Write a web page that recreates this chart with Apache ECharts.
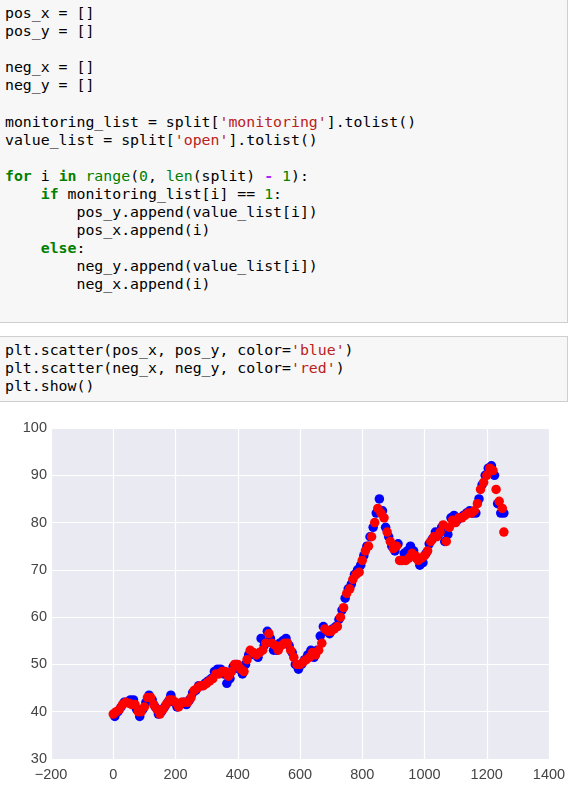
<!DOCTYPE html>
<html><head><meta charset="utf-8">
<script src="https://cdn.jsdelivr.net/npm/echarts@6/dist/echarts.min.js"></script>
<style>
html,body{margin:0;padding:0;width:569px;height:795px;overflow:hidden;background:#fff;}
.cell{position:absolute;left:0;width:567px;background:#f7f7f7;border:1px solid #cfcfcf;border-left:none;}
pre{margin:0;padding:4px 0 0 5px;font-family:"DejaVu Sans Mono","Liberation Mono",monospace;font-size:14.85px;line-height:18.1px;color:#000;}
.k{color:#008000;font-weight:bold}.b{color:#008000}.s{color:#BA2121}.n{color:#008000}.o{color:#AA22FF;font-weight:bold}
#chart{position:absolute;left:0;top:400px;width:569px;height:395px;}
</style></head><body>
<div class="cell" style="top:-1px;height:322px"><pre>pos_x = []
pos_y = []

neg_x = []
neg_y = []

monitoring_list = split[<span class="s">'monitoring'</span>].tolist()
value_list = split[<span class="s">'open'</span>].tolist()

<span class="k">for</span> i <span class="k">in</span> <span class="b">range</span>(<span class="n">0</span>, <span class="b">len</span>(split) <span class="o">-</span> <span class="n">1</span>):
    <span class="k">if</span> monitoring_list[i] == <span class="n">1</span>:
        pos_y.append(value_list[i])
        pos_x.append(i)
    <span class="k">else</span>:
        neg_y.append(value_list[i])
        neg_x.append(i)</pre></div>
<div class="cell" style="top:336px;height:64px"><pre>plt.scatter(pos_x, pos_y, color=<span class="s">'blue'</span>)
plt.scatter(neg_x, neg_y, color=<span class="s">'red'</span>)
plt.show()</pre></div>
<div id="chart"></div>
<script>
// blue (monitoring == 1), sampled every 10 samples starting at index 5
const posStart = 5, posStep = 10;
const posY = [39,40,41,42,42,42.5,42.5,40.5,39,40.5,42,43.5,42.5,41,39.5,40,41,42,43.5,42,41,41.5,42,41.5,42.5,44,44.5,45.5,45.5,46,46.5,47,48.5,49,49,48,46,47,49.5,50,49,48,50,52,52.5,52,51.5,55.5,54,57,55.5,53,53,54.5,55,55.5,54,52.5,50,49,50,51,52,53,51.5,53,56,58,57,56.5,57.5,58,59.5,61.5,64,66,67,69,70,71,73,75,77,79,82,85,82.5,79,77,75,74,75.5,72,73.5,74,75,74,72.5,71,71.5,73.5,75.5,76.5,78,77.5,79,76,77.5,81,81.5,80.5,81,81.5,82,82.5,82,82,85,88,90,91.5,92,90,84,82,82];
// red (other), sampled every 10 samples starting at index 0
const negStart = 0, negStep = 10;
const negY = [39.5,40,40.5,41.5,42,41.8,41.5,41.5,40,40,41,43,43,41.5,40.5,39.5,40.5,41.5,42.5,42.5,42,41,42,42,42,43,44.5,45,45.5,45.5,46,46.5,47,48,48,48.5,48.5,47.5,48.5,50,50,49,48.5,51,53,52.5,52,52.5,53,54.5,56.5,54.5,54,53,54,54.5,54.5,53,51.5,50,50,50.5,51,51.5,52.5,52,53,54.5,57.5,57,57,57.5,58,60,62,65,66,68,69,69.5,72,74,75,77,80,83,82,81,78,76,74.5,75,72,72,72,72.5,73.5,73,72,72.5,73,74,76,77,77,78,79.5,76,79,80.5,80,81,81,81.5,82,82,82.5,84,87,88.5,90,91.5,91,87,84.5,83];
const outlierX = [1255], outlierY = [78];
const xTicks = [-200,0,200,400,600,800,1000,1200,1400];
const yTicks = [30,40,50,60,70,80,90,100];

const blue = posY.map((v,i)=>[posStart+i*posStep, v]);
const red = negY.map((v,i)=>[negStart+i*negStep, v]).concat(outlierX.map((x,i)=>[x,outlierY[i]]));
const lab = {color:'#444',fontSize:14.5,fontFamily:'Liberation Sans, Arial, sans-serif',formatter:v=>String(v).replace('-','\u2212')};
const chart = echarts.init(document.getElementById('chart'));
chart.setOption({
  animation:false,
  grid:{left:51,right:20,top:28,bottom:36,backgroundColor:'#EAEAF2',show:true,borderWidth:0},
  xAxis:{type:'value',min:xTicks[0],max:xTicks[xTicks.length-1],interval:200,
    axisLine:{show:false},axisTick:{show:false},
    axisLabel:Object.assign({margin:8},lab),
    splitLine:{lineStyle:{color:'#fff',width:1.2}}},
  yAxis:{type:'value',min:yTicks[0],max:yTicks[yTicks.length-1],interval:10,
    axisLine:{show:false},axisTick:{show:false},
    axisLabel:Object.assign({margin:4},lab),
    splitLine:{lineStyle:{color:'#fff',width:1.2}}},
  series:[
    {type:'scatter',data:blue,symbolSize:9.5,itemStyle:{color:'#0000ff',opacity:1}},
    {type:'scatter',data:red,symbolSize:9.5,itemStyle:{color:'#ff0000',opacity:1}}
  ]
});
</script>
</body></html>
